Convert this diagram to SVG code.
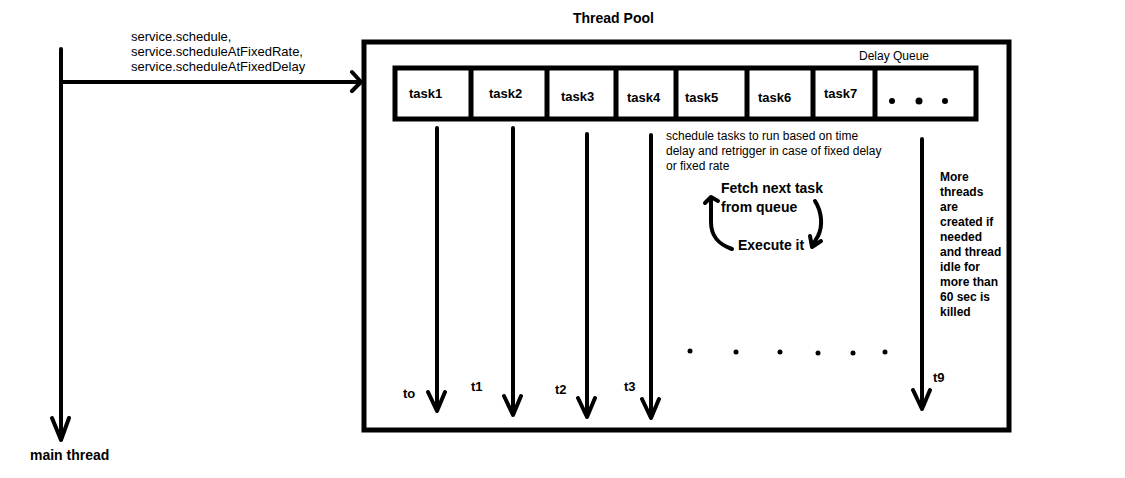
<svg xmlns="http://www.w3.org/2000/svg" width="1125" height="478" viewBox="0 0 1125 478">
<style>
.ln{fill:none;stroke:#000;stroke-width:4;stroke-linecap:round;stroke-linejoin:round}
.box{fill:none;stroke:#000;stroke-width:5}
.t{font-family:"Liberation Sans",Arial,sans-serif;font-size:12px;fill:#000}
.s{font-family:"Liberation Sans",Arial,sans-serif;font-size:13px;fill:#000}
.b{font-family:"Liberation Sans",Arial,sans-serif;font-size:13px;font-weight:bold;fill:#000}
.m{font-family:"Liberation Sans",Arial,sans-serif;font-size:12px;font-weight:bold;fill:#000}
.bb{font-family:"Liberation Sans",Arial,sans-serif;font-size:14px;font-weight:bold;fill:#000}
.dot{fill:#000}
</style>
<rect width="1125" height="478" fill="#fff"/>
<g id="main-thread">
<text class="bb" x="30" y="460">main thread</text>
</g>
<g id="thread-pool">
<rect class="box" x="364" y="42" width="645" height="388"/>
<text class="bb" x="573" y="23">Thread Pool</text>
</g>
<g id="delay-queue">
<text class="t" x="859" y="60">Delay Queue</text>
<rect class="box" x="395" y="68" width="581" height="51"/>
<path class="box" d="M471 68V119M547 68V119M616 68V119M676 68V119M747 68V119M813 68V119M875 68V119"/>
</g>
<g id="task1"><text class="b" x="409" y="98">task1</text></g>
<g id="task2"><text class="b" x="489" y="98">task2</text></g>
<g id="task3"><text class="b" x="561" y="101">task3</text></g>
<g id="task4"><text class="b" x="627" y="102">task4</text></g>
<g id="task5"><text class="b" x="685" y="102">task5</text></g>
<g id="task6"><text class="b" x="758" y="102">task6</text></g>
<g id="task7"><text class="b" x="824" y="98">task7</text></g>
<g id="more-tasks">
<circle class="dot" cx="892" cy="101" r="3"/><circle class="dot" cx="919" cy="101" r="3.5"/><circle class="dot" cx="945" cy="101" r="3"/>
</g>
<g id="calls">
<text class="s" x="131" y="41">service.schedule,</text>
<text class="s" x="131" y="56">service.scheduleAtFixedRate,</text>
<text class="s" x="131" y="71">service.scheduleAtFixedDelay</text>
</g>
<g id="notes">
<text class="t" x="666" y="140">schedule tasks to run based on time</text>
<text class="t" x="666" y="155">delay and retrigger in case of fixed delay</text>
<text class="t" x="666" y="170">or fixed rate</text>
<text class="bb" x="721" y="193">Fetch next task</text>
<text class="bb" x="721" y="212">from queue</text>
<text class="bb" x="738" y="250">Execute it</text>
<g class="m">
<text x="940" y="181">More</text><text x="940" y="196">threads</text><text x="940" y="211">are</text><text x="940" y="226">created if</text><text x="940" y="241">needed</text><text x="940" y="256">and thread</text><text x="940" y="271">idle for</text><text x="940" y="286">more than</text><text x="940" y="301">60 sec is</text><text x="940" y="316">killed</text>
</g>
<circle class="dot" cx="690" cy="351" r="2.5"/><circle class="dot" cx="736" cy="352" r="2.5"/><circle class="dot" cx="780" cy="352" r="2.5"/><circle class="dot" cx="818" cy="353" r="2.5"/><circle class="dot" cx="853" cy="353" r="2.5"/><circle class="dot" cx="885" cy="352" r="2.5"/>
</g>
<g id="threads">
<text class="b" x="403" y="398">to</text>
<text class="b" x="471" y="391">t1</text>
<text class="b" x="555" y="394">t2</text>
<text class="b" x="624" y="391">t3</text>
<text class="b" x="933" y="382">t9</text>
</g>
<g id="connectors">
<path class="ln" d="M61 49V440M52 418L61 440L69 418"/>
<path class="ln" d="M61 82H361M352 72L361 82L352 91"/>
<path class="ln" d="M437 128V411M428 392L437 411L445 392"/>
<path class="ln" d="M513 128V415M504 396L513 415L521 396"/>
<path class="ln" d="M587 134V417M578 398L587 417L595 398"/>
<path class="ln" d="M651 135V418M642 399L651 418L659 399"/>
<path class="ln" d="M922 139V409M913 390L922 409L930 390"/>
<path class="ln" d="M732 249C718 244 711 236 711 222L711 199M705 203L711 197L718 201"/>
<path class="ln" d="M815 201C822 212 823 226 818 236L812 246M810 236L812 247L821 241"/>
</g>
</svg>
